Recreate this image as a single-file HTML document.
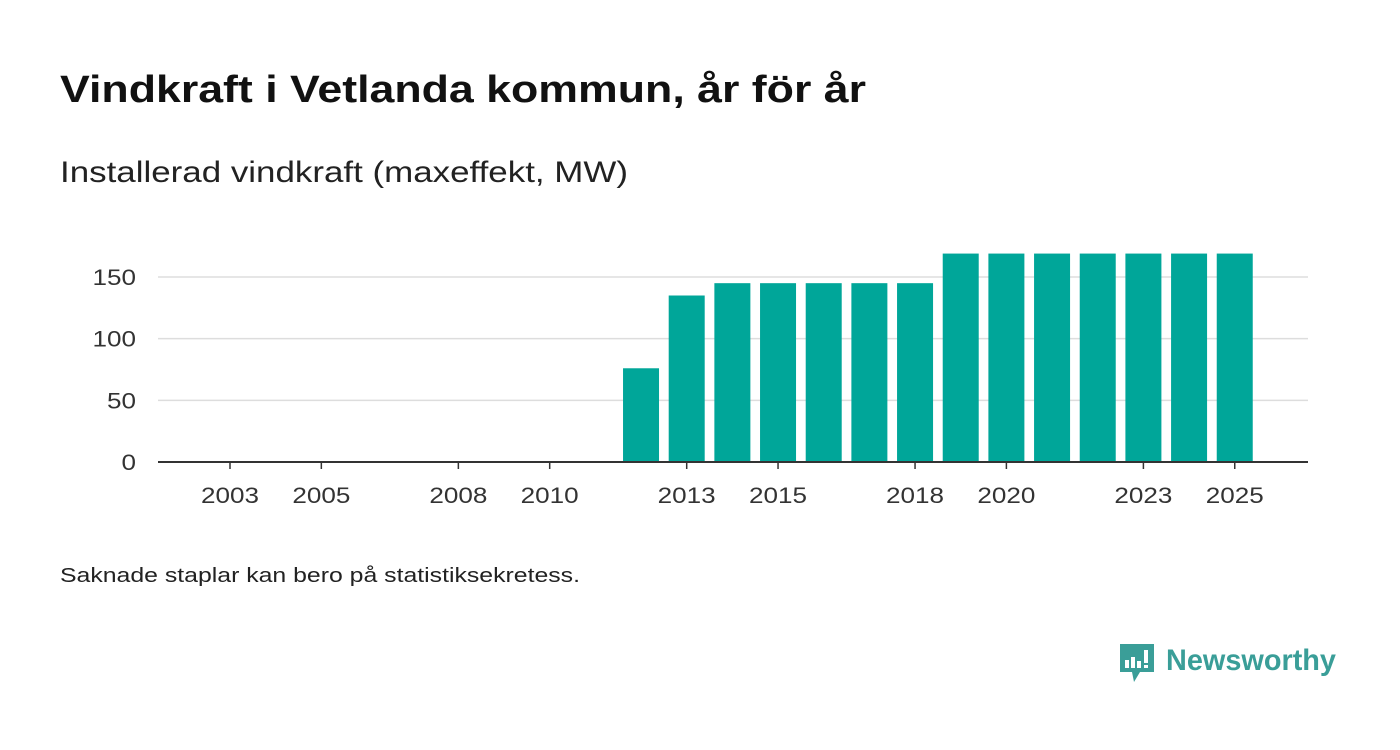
<!DOCTYPE html>
<html><head><meta charset="utf-8"><style>
body{margin:0;background:#fff;width:1400px;height:745px;overflow:hidden;font-family:"Liberation Sans",sans-serif;}
</style></head><body>
<svg width="1400" height="745" xmlns="http://www.w3.org/2000/svg">
<text x="60" y="102" font-size="38" font-weight="bold" fill="#111" textLength="806" lengthAdjust="spacingAndGlyphs">Vindkraft i Vetlanda kommun, år för år</text>
<text x="60" y="182" font-size="30" fill="#222" textLength="568" lengthAdjust="spacingAndGlyphs">Installerad vindkraft (maxeffekt, MW)</text>
<g id="grid"></g><g id="bars"></g><g id="axes"></g>
<text x="60" y="582" font-size="20" fill="#222" textLength="520" lengthAdjust="spacingAndGlyphs">Saknade staplar kan bero på statistiksekretess.</text>
<g>
<path d="M1120 644 h34 v28 h-14 l-6 10 l-2-10 h-12 z" fill="#3a9e98"/>
<rect x="1125" y="660" width="4" height="8" fill="#fff"/><rect x="1131" y="657" width="4" height="11" fill="#fff"/><rect x="1137" y="661" width="4" height="7" fill="#fff"/><rect x="1144" y="650" width="4" height="13" fill="#fff"/><rect x="1144" y="665" width="4" height="3" fill="#fff"/>
<text x="1166" y="670" font-size="30" font-weight="bold" fill="#3a9e98" textLength="170" lengthAdjust="spacingAndGlyphs">Newsworthy</text>
</g>
</svg>
<script>
const years=[2012,2013,2014,2015,2016,2017,2018,2019,2020,2021,2022,2023,2024,2025];
const values=[76,135,145,145,145,145,145,169,169,169,169,169,169,169];
const xTicks=[2003,2005,2008,2010,2013,2015,2018,2020,2023,2025];
const yTicks=[0,50,100,150];
const NS="http://www.w3.org/2000/svg";
const x=y=>230+(y-2003)*45.67;
const yS=v=>462-v*1.2333;
function mk(t,a,p){const e=document.createElementNS(NS,t);for(const k in a)e.setAttribute(k,a[k]);document.getElementById(p).appendChild(e);return e;}
yTicks.forEach(v=>{
 if(v>0){const l=mk('line',{x1:158,x2:1308,y1:yS(v),y2:yS(v),stroke:'#ddd','stroke-width':1.5},'grid');
 
 }
 const t=mk('text',{x:136,y:yS(v)+8,'font-size':22,fill:'#333','text-anchor':'end',textLength:String(v).length*14.5,lengthAdjust:'spacingAndGlyphs'},'axes');t.textContent=v;
 
 
});
years.forEach((yr,i)=>{
 const r=mk('rect',{x:x(yr)-18,y:yS(values[i]),width:36,height:462-yS(values[i]),fill:'#00a699'},'bars');
 
 
});
const ax=mk('line',{x1:158,x2:1308,y1:462,y2:462,stroke:'#333','stroke-width':2},'axes');


xTicks.forEach(yr=>{
 mk('line',{x1:x(yr),x2:x(yr),y1:462,y2:469,stroke:'#333','stroke-width':1.5},'axes');
 const t=mk('text',{x:x(yr),y:503,'font-size':22,fill:'#333','text-anchor':'middle',textLength:58,lengthAdjust:'spacingAndGlyphs'},'axes');t.textContent=yr;
 
 
});
</script>
</body></html>
